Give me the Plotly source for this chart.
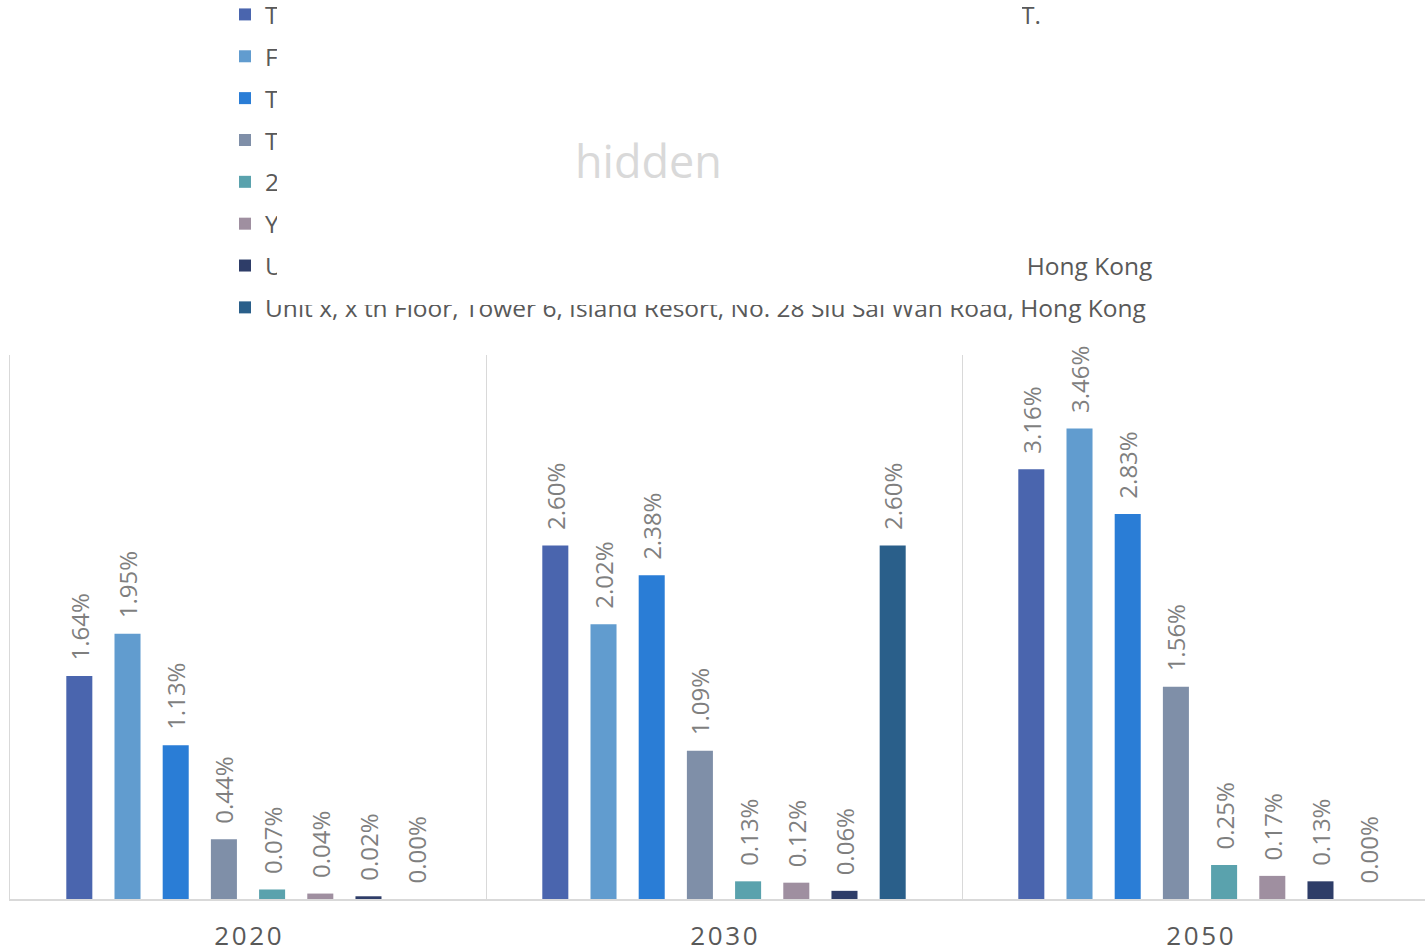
import plotly.graph_objects as go

# Projection years (category axis)
years = ["2020", "2030", "2050"]

# Series names shown in the legend
series_names = [
    "Tower 12, Harbour Plaza, No. 188 Tsuen Wan Road, Tsuen Wan, N.T.",
    "Flat A, 12/F, Block 3, Sea View Garden, Tai Po, N.T.",
    "Tai Koo Shing, Quarry Bay, Hong Kong Island",
    "Tsim Sha Tsui, Kowloon",
    "28/F, Kowloon Commerce Centre, Kwai Chung",
    "Yuen Long Industrial Estate, Yuen Long",
    "Unit x, x th Floor, Tower 5, Island Resort, No. 28 Siu Sai Wan Road,  Hong Kong",
    "Unit x, x th Floor, Tower 6, Island Resort, No. 28 Siu Sai Wan Road, Hong Kong",
]

# Values in percent, one list per series (2020, 2030, 2050)
s1 = [1.64, 2.60, 3.16]
s2 = [1.95, 2.02, 3.46]
s3 = [1.13, 2.38, 2.83]
s4 = [0.44, 1.09, 1.56]
s5 = [0.07, 0.13, 0.25]
s6 = [0.04, 0.12, 0.17]
s7 = [0.02, 0.06, 0.13]
s8 = [0.00, 2.60, 0.00]
series_values = [s1, s2, s3, s4, s5, s6, s7, s8]

colors = ["#4a65ae", "#619ccf", "#2a7dd6", "#7f8fa8",
          "#5aa2ad", "#9f8fa0", "#2e3d68", "#2a5f8a"]

# spaced-out year labels
x_labels = ["\u200a".join(y) for y in years]

fig = go.Figure()
for i, (name, vals, col) in enumerate(zip(series_names, series_values, colors)):
    fig.add_trace(go.Bar(
        x=x_labels,
        y=vals,
        name=name,
        legendgroup=f"g{i}",
        marker=dict(color=col, line=dict(width=0)),
        texttemplate="\u00a0\u00a0%{y:.2f}%",
        textposition="outside",
        textangle=-90,
        constraintext="none",
        cliponaxis=False,
        textfont=dict(family="Open Sans", size=24, color="#7f7f7f"),
        hoverinfo="skip",
    ))

fig.update_layout(
    width=1425,
    height=951,
    barmode="group",
    bargap=0.19,
    bargroupgap=0.46,
    paper_bgcolor="white",
    plot_bgcolor="white",
    margin=dict(l=10, r=0, t=355, b=52, autoexpand=False),
    font=dict(family="Open Sans", color="#595959"),
    legend=dict(
        xref="paper", yref="paper",
        x=(225 - 10) / 1415, y=(899 + 8) / 544,
        xanchor="left", yanchor="top",
        font=dict(family="Open Sans", size=24.5, color="#595959"),
        tracegroupgap=7,
        bgcolor="rgba(0,0,0,0)",
        traceorder="grouped",
    ),
    xaxis=dict(
        type="category",
        range=[-0.5, 2.5 - 13 / 476],
        tickson="boundaries",
        showgrid=True,
        gridcolor="#d9d9d9",
        gridwidth=1,
        showline=True,
        linecolor="#d9d9d9",
        linewidth=1.5,
        ticks="",
        ticklabelstandoff=13,
        tickfont=dict(family="Open Sans", size=26, color="#595959"),
    ),
    yaxis=dict(
        range=[0, 4.0],
        showgrid=False,
        zeroline=False,
        showticklabels=False,
        showline=True,
        linecolor="#d9d9d9",
        linewidth=1,
    ),
    showlegend=True,
)

# white panel over the legend labels, with its caption
fig.add_annotation(
    xref="paper", yref="paper",
    x=(649.5 - 10) / 1415, y=(899 - 152.5) / 544,
    xanchor="center", yanchor="middle",
    width=745, height=305,
    text=" ", showarrow=False,
    bgcolor="white", borderwidth=0, borderpad=0,
)
fig.add_annotation(
    xref="paper", yref="paper",
    x=(648 - 10) / 1415, y=(899 - 160) / 544,
    xanchor="center", yanchor="middle",
    text="hidden", showarrow=False,
    font=dict(family="Open Sans", size=45, color="#d9d9d9"),
)

fig.write_html("out.html")
